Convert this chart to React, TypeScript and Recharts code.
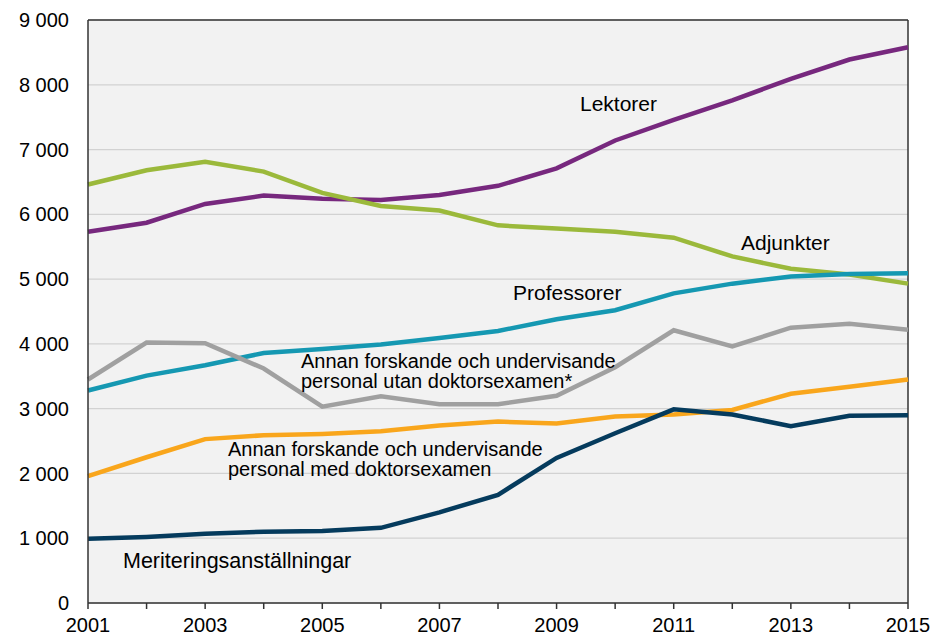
import React from "react";
import { LineChart, Line, XAxis, YAxis, CartesianGrid, ReferenceLine } from "recharts";

const years = [2001, 2002, 2003, 2004, 2005, 2006, 2007, 2008, 2009, 2010, 2011, 2012, 2013, 2014, 2015];
const lektorer = [5730, 5870, 6160, 6290, 6240, 6220, 6300, 6440, 6710, 7140, 7460, 7760, 8090, 8390, 8580];
const adjunkter = [6460, 6680, 6810, 6660, 6330, 6130, 6060, 5830, 5780, 5730, 5640, 5350, 5160, 5070, 4930];
const professorer = [3280, 3510, 3670, 3860, 3920, 3990, 4090, 4200, 4380, 4520, 4780, 4930, 5040, 5080, 5090];
const annanUtan = [3450, 4020, 4010, 3620, 3030, 3190, 3070, 3070, 3200, 3640, 4210, 3960, 4250, 4310, 4220];
const annanMed = [1960, 2250, 2530, 2590, 2610, 2650, 2740, 2800, 2770, 2880, 2910, 2980, 3230, 3340, 3450];
const meritering = [990, 1020, 1070, 1100, 1110, 1160, 1400, 1670, 2240, 2620, 2990, 2910, 2730, 2890, 2900];
const yTicks = [0, 1000, 2000, 3000, 4000, 5000, 6000, 7000, 8000, 9000];

const data = years.map((y, i) => ({
  year: y,
  lektorer: lektorer[i],
  adjunkter: adjunkter[i],
  professorer: professorer[i],
  annanUtan: annanUtan[i],
  annanMed: annanMed[i],
  meritering: meritering[i],
}));

const font = "'Liberation Sans', Arial, sans-serif";

const labels = [
  { text: ["Lektorer"], left: 580, top: 93, size: 21, lh: 22 },
  { text: ["Adjunkter"], left: 741, top: 231.5, size: 21, lh: 22 },
  { text: ["Professorer"], left: 513, top: 281.5, size: 21, lh: 22 },
  { text: ["Annan forskande och undervisande", "personal utan doktorsexamen*"], left: 301, top: 351, size: 20, lh: 20 },
  { text: ["Annan forskande och undervisande", "personal med doktorsexamen"], left: 228, top: 439, size: 20, lh: 20 },
  { text: ["Meriteringsanställningar"], left: 123, top: 550, size: 21.5, lh: 22 },
];

const fmt = (v: number) => {
  if (v === 0) return "0";
  const s = String(v);
  return s.slice(0, s.length - 3) + " " + s.slice(-3);
};

export default function App() {
  return (
    <div style={{ position: "absolute", left: 0, top: 0, width: 938, height: 637, background: "#fff", fontFamily: font }}>
      <LineChart width={938} height={637} data={data} margin={{ top: 20, right: 30, left: 8, bottom: 0 }}>
        <CartesianGrid vertical={false} stroke="#d2d2d2" strokeWidth={1.2} fill="#f2f2f2" />
        <XAxis
          dataKey="year"
          type="number"
          domain={[2001, 2015]}
          ticks={years}
          interval={0}
          height={34}
          tickSize={6}
          tickMargin={9}
          axisLine={{ stroke: "#333", strokeWidth: 1.5 }}
          tickLine={{ stroke: "#333", strokeWidth: 1.5 }}
          tickFormatter={(v: number) => (v % 2 === 1 ? String(v) : "")}
          tick={{ fill: "#000", fontSize: 20, fontFamily: font }}
        />
        <YAxis
          type="number"
          domain={[0, 9000]}
          ticks={yTicks}
          width={80}
          tickSize={0}
          tickMargin={19}
          axisLine={{ stroke: "#333", strokeWidth: 1.5 }}
          tickLine={false}
          tickFormatter={fmt}
          tick={{ fill: "#000", fontSize: 20, fontFamily: font }}
        />
        <ReferenceLine y={9000} stroke="#333" strokeWidth={1.5} />
        <ReferenceLine x={2015} stroke="#333" strokeWidth={1.5} />
        <Line dataKey="lektorer" stroke="#77287e" strokeWidth={4.5} dot={false} isAnimationActive={false} />
        <Line dataKey="adjunkter" stroke="#9bb93b" strokeWidth={4.5} dot={false} isAnimationActive={false} />
        <Line dataKey="professorer" stroke="#1598b2" strokeWidth={4.5} dot={false} isAnimationActive={false} />
        <Line dataKey="annanUtan" stroke="#a0a0a0" strokeWidth={4.5} dot={false} isAnimationActive={false} />
        <Line dataKey="annanMed" stroke="#f9a61c" strokeWidth={4.5} dot={false} isAnimationActive={false} />
        <Line dataKey="meritering" stroke="#053b5d" strokeWidth={4.5} dot={false} isAnimationActive={false} />
      </LineChart>
      {labels.map((l, i) => (
        <div
          key={i}
          style={{
            position: "absolute",
            left: l.left,
            top: l.top,
            fontSize: l.size,
            lineHeight: l.lh + "px",
            color: "#000",
            whiteSpace: "nowrap",
            fontFamily: font,
          }}
        >
          {l.text.map((t, j) => (
            <div key={j}>{t}</div>
          ))}
        </div>
      ))}
    </div>
  );
}
